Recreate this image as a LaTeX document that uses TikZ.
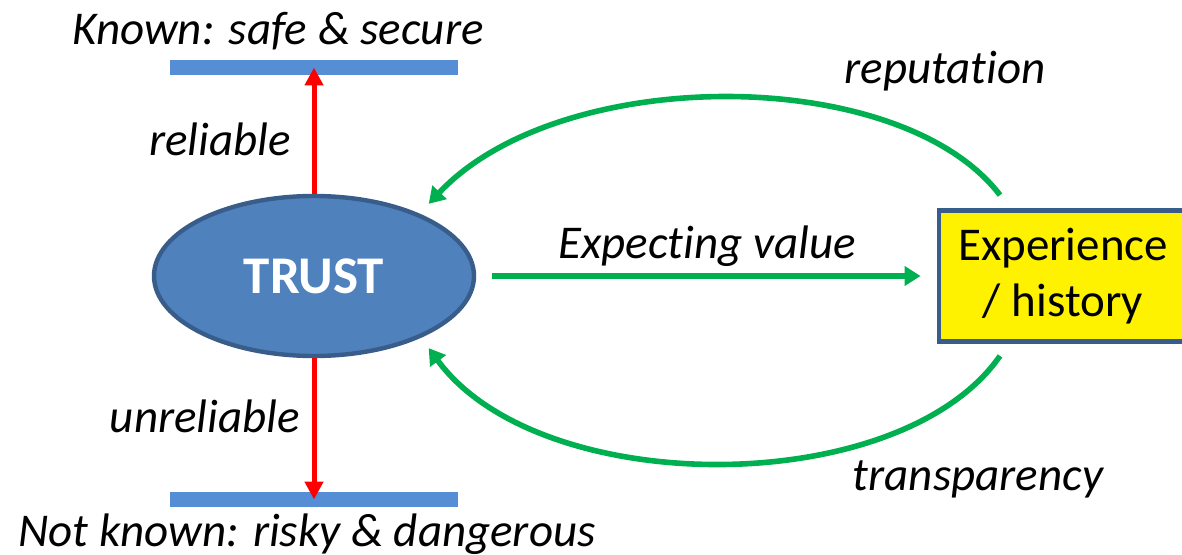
\documentclass[tikz,border=0pt]{standalone}
\usepackage{fontspec}
\setmainfont{Carlito}[Ligatures=NoCommon]
\usetikzlibrary{shapes.geometric,arrows.meta}
\definecolor{barblue}{HTML}{558ED5}
\definecolor{trustfill}{HTML}{4F81BD}
\definecolor{trustline}{HTML}{385D8A}
\definecolor{arrowgreen}{HTML}{00B050}
\begin{document}
\begin{tikzpicture}[x=0.5pt,y=-0.5pt,
    lbl/.style={font=\fontsize{23.5}{28}\selectfont\itshape},
    bar/.style={fill=barblue,minimum width=144pt,minimum height=7.5pt,inner sep=0pt},
    trust/.style={ellipse,fill=trustfill,draw=trustline,line width=2.2pt,
      minimum width=160pt,minimum height=80pt,text=white,
      font=\fontsize{26.5}{30}\selectfont\bfseries},
    history/.style={rectangle,fill=yellow,draw=trustline,line width=2.4pt,
      minimum width=124pt,minimum height=65.5pt,align=center,
      font=\fontsize{23.5}{28}\selectfont},
    redarrow/.style={draw=red,line width=2.5pt,-{Triangle[length=9pt,width=9pt]}},
    greenarrow/.style={draw=arrowgreen,line width=2.8pt,-{Triangle[length=8pt,width=9.5pt]}}]
      \useasboundingbox (0,0) rectangle (1182,555);
      \node[bar] at (314,67.5) (safe) {};
      \node[bar] at (314,499.5) (risky) {};
      \node[trust] at (314,276) (trust) {TRUST};
      \node[history] at (1063,276) (exp) {Experience\\/ history};
      \node[lbl] at (278,31) (known) {Known: safe \& secure};
      \node[lbl] at (307,534) (unknown) {Not known: risky \& dangerous};
      \node[lbl] at (220,139) (rel) {reliable};
      \node[lbl] at (205,416) (unrel) {unreliable};
      \node[lbl] at (707,246) (expect) {Expecting value};
      \node[lbl] at (945,71) (rep) {reputation};
      \node[lbl] at (978,479) (trans) {transparency};
      \draw[redarrow] (trust.north) -- (safe.center);
      \draw[redarrow] (trust.south) -- (risky.center);
      \draw[greenarrow,shorten <=8pt,shorten >=8pt] (trust) -- (exp);
      \draw[greenarrow] ([xshift=-31.5pt,yshift=6.5pt]exp.north)
        .. controls (900,64) and (560,64) .. ([yshift=7pt]trust.north east);
      \draw[greenarrow] ([xshift=-31.5pt,yshift=-6pt]exp.south)
        .. controls (900,500) and (540,500) .. ([yshift=-7pt]trust.south east);
    \end{tikzpicture}
\end{document}
